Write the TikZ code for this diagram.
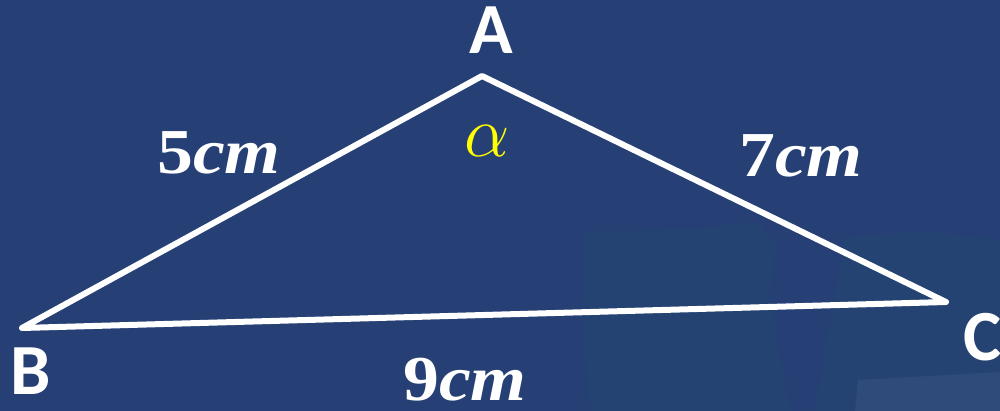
\documentclass[tikz,border=0pt]{standalone}
\usepackage{fix-cm}
\usepackage{fontspec}
\setmainfont{Liberation Serif}
\newfontfamily\labfont{Carlito}
\newfontfamily\sidefont{Liberation Serif}[FakeStretch=1.12]
\definecolor{bgblue}{RGB}{38,64,118}
\definecolor{texteal}{RGB}{30,80,100}
\definecolor{alphay}{RGB}{255,255,0}
\begin{document}
\begin{tikzpicture}[x=1pt,y=-1pt,
  vlabel/.style={text=white,font=\labfont\bfseries\fontsize{72}{72}\selectfont,inner sep=0pt},
  slabel/.style={text=white,font=\sidefont\bfseries\fontsize{64}{64}\selectfont,inner sep=0pt},
  side/.style={draw=white,line width=6pt,line join=round,line cap=round}]
\fill[bgblue] (0,0) rectangle (1000,411);
\useasboundingbox (0,0) rectangle (1000,411);
% faint background texture
\fill[texteal,opacity=0.18] (585,232) -- (700,228) -- (760,222) -- (775,245) -- (770,300) -- (790,411) -- (590,411) -- (582,300) -- cycle;
\fill[texteal,opacity=0.18] (845,236) -- (930,232) -- (1000,240) -- (1000,411) -- (815,411) -- (830,320) -- cycle;
\fill[white,opacity=0.05] (858,380) -- (1000,372) -- (1000,411) -- (855,411) -- cycle;
% vertices
\coordinate (A) at (482,76);
\coordinate (B) at (22,328);
\coordinate (C) at (946,302);
\draw[side] (A) -- (B) -- (C) -- cycle;
% labels
\node[vlabel,anchor=base] (lA) at (491,54) {A};
\node[vlabel,anchor=base] (lB) at (31,394) {B};
\node[vlabel,anchor=base] (lC) at (983,360) {C};
\node[slabel] (s5) at (219,153) {5\textit{cm}};
\node[slabel] (s7) at (801,156) {7\textit{cm}};
\node[slabel] (s9) at (465,380) {9\textit{cm}};
\node[text=alphay,draw=none,inner sep=0pt,font=\fontsize{72}{72}\selectfont] (al) at (487,141) {$\alpha$};
\end{tikzpicture}
\end{document}
